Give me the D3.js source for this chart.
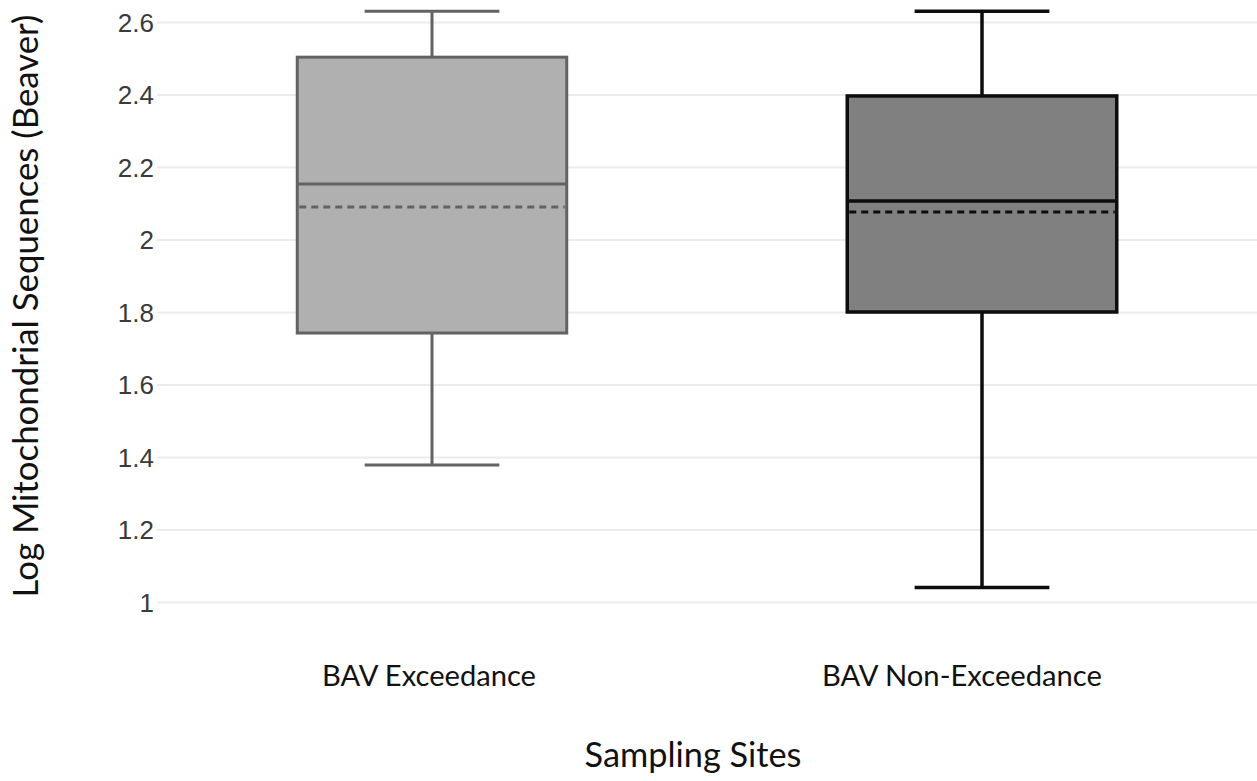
<!DOCTYPE html>
<html>
<head>
<meta charset="utf-8">
<script src="https://cdn.jsdelivr.net/npm/d3@7"></script>
<style>
  html, body { margin: 0; padding: 0; background: #fff; }
  svg { display: block; }
</style>
</head>
<body>
<svg id="chart" width="1257" height="781"></svg>
<script>
// Sampling site groups
const sites = ["BAV Exceedance", "BAV Non-Exceedance"];

// Box statistics per site (log mitochondrial sequences)
const whiskerLow  = [1.378, 1.040];
const q1          = [1.742, 1.800];
const median      = [2.153, 2.106];
const mean        = [2.090, 2.076];
const q3          = [2.503, 2.396];
const whiskerHigh = [2.630, 2.630];

// Y axis ticks
const yTicks = [1, 1.2, 1.4, 1.6, 1.8, 2, 2.2, 2.4, 2.6];

const boxes = sites.map((s, i) => ({
  site: s,
  lo: whiskerLow[i], q1: q1[i], med: median[i],
  mean: mean[i], q3: q3[i], hi: whiskerHigh[i]
}));

const svg = d3.select("#chart");

const plotLeft = 157, plotRight = 1257;
const x = d3.scaleBand()
  .domain(sites)
  .range([plotLeft, plotRight])
  .paddingInner(0.51)
  .paddingOuter(0.255);

const y = d3.scaleLinear().domain([1, 2.6]).range([602, 22]);

const fill = d3.scaleOrdinal(sites, ["#b0b0b0", "#808080"]);
const stroke = d3.scaleOrdinal(sites, ["#636363", "#0d0d0d"]);
const strokeW = d3.scaleOrdinal(sites, [3, 3.5]);

// Horizontal gridlines
const yAxis = d3.axisLeft(y)
  .tickValues(yTicks)
  .tickSize(-(plotRight - plotLeft))
  .tickPadding(3)
  .tickFormat(d => String(+d.toFixed(1)));

const gy = svg.append("g")
  .attr("transform", `translate(${plotLeft},0)`)
  .call(yAxis);
gy.select(".domain").remove();
gy.selectAll(".tick line").attr("stroke", "#ebebeb").attr("stroke-width", 2);
gy.selectAll(".tick text")
  .attr("fill", "#3a3a3a")
  .style("font-family", "'Liberation Sans', Arial, sans-serif")
  .style("font-size", "26px")
  .attr("dy", "0.35em");

// Boxes
const g = svg.append("g");
const bw = x.bandwidth();

const box = g.selectAll("g.box").data(boxes).join("g").attr("class", "box");

// whiskers
box.append("line")
  .attr("x1", d => x(d.site) + bw / 2).attr("x2", d => x(d.site) + bw / 2)
  .attr("y1", d => y(d.hi)).attr("y2", d => y(d.q3))
  .attr("stroke", d => stroke(d.site)).attr("stroke-width", d => strokeW(d.site));
box.append("line")
  .attr("x1", d => x(d.site) + bw / 2).attr("x2", d => x(d.site) + bw / 2)
  .attr("y1", d => y(d.q1)).attr("y2", d => y(d.lo))
  .attr("stroke", d => stroke(d.site)).attr("stroke-width", d => strokeW(d.site));
// whisker caps
["hi", "lo"].forEach(k => {
  box.append("line")
    .attr("x1", d => x(d.site) + bw / 4).attr("x2", d => x(d.site) + bw * 3 / 4)
    .attr("y1", d => y(d[k])).attr("y2", d => y(d[k]))
    .attr("stroke", d => stroke(d.site)).attr("stroke-width", d => strokeW(d.site));
});
// box body
box.append("rect")
  .attr("x", d => x(d.site)).attr("width", bw)
  .attr("y", d => y(d.q3)).attr("height", d => y(d.q1) - y(d.q3))
  .attr("fill", d => fill(d.site))
  .attr("stroke", d => stroke(d.site)).attr("stroke-width", d => strokeW(d.site));
// median
box.append("line")
  .attr("x1", d => x(d.site)).attr("x2", d => x(d.site) + bw)
  .attr("y1", d => y(d.med)).attr("y2", d => y(d.med))
  .attr("stroke", d => stroke(d.site)).attr("stroke-width", d => strokeW(d.site));
// mean (dashed)
box.append("line")
  .attr("x1", d => x(d.site) + 2).attr("x2", d => x(d.site) + bw - 2)
  .attr("y1", d => y(d.mean)).attr("y2", d => y(d.mean))
  .attr("stroke", d => stroke(d.site)).attr("stroke-width", 3)
  .attr("stroke-dasharray", "7,5");

// Text helper: size a label so it spans the given width
function fitWidth(sel, width) {
  const base = parseFloat(sel.style("font-size"));
  const len = sel.node().getComputedTextLength();
  sel.style("font-size", (base * width / len) + "px");
  return sel;
}

const labelFont = "Lato, 'Open Sans', sans-serif";

// Category labels
const labelX = d3.scalePoint().domain(sites).range([429, 962]);
const labelWidths = d3.scaleOrdinal(sites, [214, 280]);
svg.append("g").selectAll("text").data(sites).join("text")
  .attr("x", d => labelX(d)).attr("y", 686)
  .attr("text-anchor", "middle")
  .attr("fill", "#111")
  .style("font-family", labelFont)
  .style("font-size", "30px")
  .text(d => d)
  .each(function(d) { fitWidth(d3.select(this), labelWidths(d)); });

// Axis titles
fitWidth(svg.append("text")
  .attr("x", 693).attr("y", 767)
  .attr("text-anchor", "middle")
  .attr("fill", "#111")
  .style("font-family", labelFont)
  .style("font-size", "36px")
  .text("Sampling Sites"), 217);

fitWidth(svg.append("text")
  .attr("transform", "translate(38,306) rotate(-90)")
  .attr("text-anchor", "middle")
  .attr("fill", "#111")
  .style("font-family", labelFont)
  .style("font-size", "36px")
  .text("Log Mitochondrial Sequences (Beaver)"), 583);
</script>
</body>
</html>
